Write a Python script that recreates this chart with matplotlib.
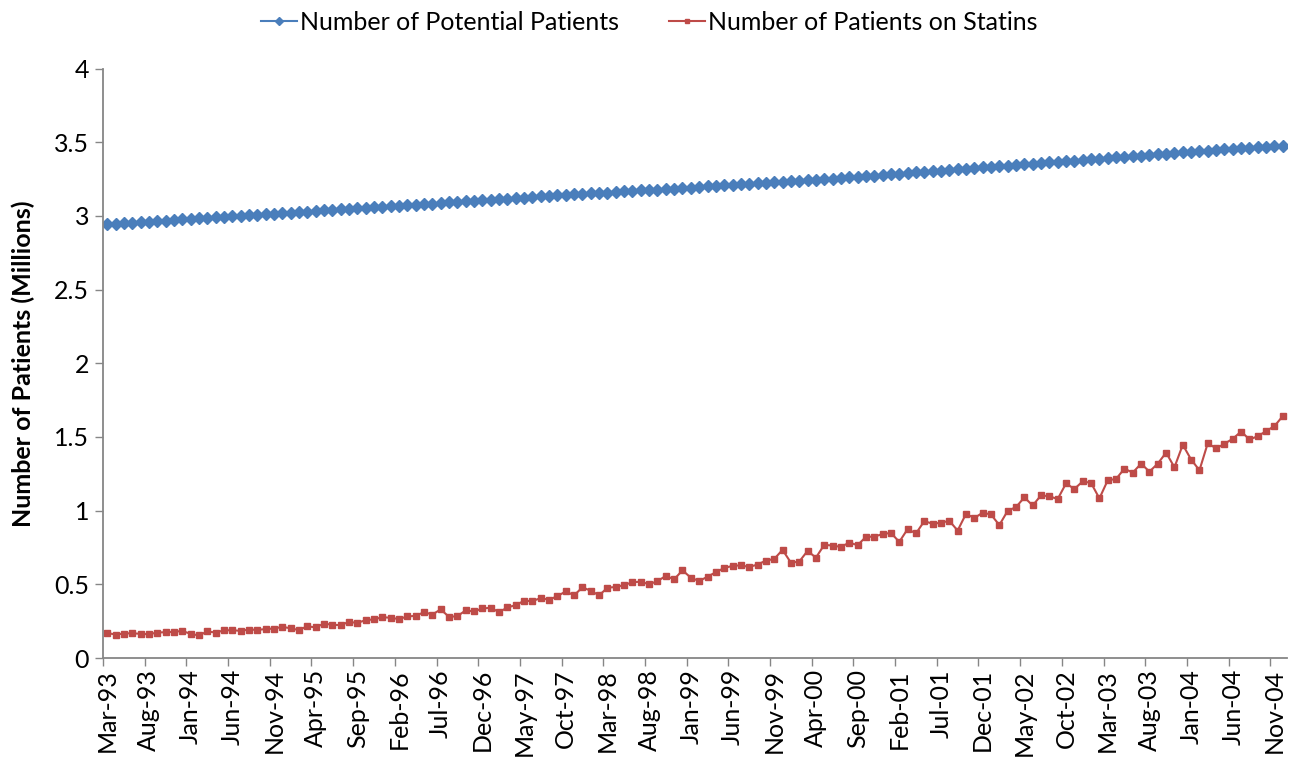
import matplotlib
matplotlib.use("Agg")
import matplotlib.pyplot as plt
import numpy as np

plt.rcParams['font.family'] = ['Lato', 'DejaVu Sans']

# 142 monthly points, Mar-93 .. Dec-04
potential = [
    2.944, 2.948, 2.951, 2.955, 2.958, 2.962, 2.965, 2.969, 2.972, 2.976,
    2.979, 2.983, 2.986, 2.990, 2.993, 2.997, 3.000, 3.004, 3.007, 3.011,
    3.015, 3.018, 3.022, 3.026, 3.029, 3.033, 3.037, 3.040, 3.044, 3.048,
    3.051, 3.055, 3.058, 3.062, 3.066, 3.069, 3.073, 3.077, 3.081, 3.084,
    3.088, 3.092, 3.095, 3.099, 3.103, 3.107, 3.110, 3.114, 3.118, 3.121,
    3.125, 3.129, 3.132, 3.136, 3.139, 3.143, 3.146, 3.149, 3.153, 3.156,
    3.159, 3.163, 3.166, 3.169, 3.173, 3.176, 3.179, 3.183, 3.186, 3.189,
    3.193, 3.196, 3.200, 3.203, 3.207, 3.211, 3.214, 3.218, 3.222, 3.225,
    3.229, 3.233, 3.236, 3.240, 3.243, 3.247, 3.251, 3.254, 3.258, 3.262,
    3.265, 3.269, 3.274, 3.278, 3.282, 3.286, 3.291, 3.295, 3.299, 3.304,
    3.308, 3.312, 3.316, 3.321, 3.325, 3.329, 3.333, 3.338, 3.342, 3.346,
    3.351, 3.355, 3.359, 3.363, 3.368, 3.372, 3.376, 3.381, 3.385, 3.389,
    3.393, 3.398, 3.402, 3.406, 3.410, 3.415, 3.419, 3.423, 3.427, 3.431,
    3.435, 3.439, 3.443, 3.447, 3.451, 3.454, 3.458, 3.462, 3.466, 3.470,
    3.474, 3.478,
]

statins = [
    0.170, 0.159, 0.166, 0.168, 0.164, 0.161, 0.173, 0.175, 0.177, 0.184,
    0.164, 0.153, 0.180, 0.173, 0.187, 0.189, 0.184, 0.193, 0.191, 0.196,
    0.200, 0.211, 0.202, 0.189, 0.216, 0.207, 0.234, 0.225, 0.223, 0.245,
    0.238, 0.257, 0.262, 0.277, 0.273, 0.264, 0.282, 0.286, 0.311, 0.295,
    0.330, 0.279, 0.284, 0.323, 0.316, 0.336, 0.341, 0.311, 0.343, 0.359,
    0.388, 0.386, 0.407, 0.395, 0.420, 0.452, 0.425, 0.480, 0.456, 0.425,
    0.477, 0.482, 0.495, 0.514, 0.518, 0.500, 0.522, 0.557, 0.534, 0.595,
    0.545, 0.522, 0.552, 0.582, 0.611, 0.625, 0.629, 0.618, 0.634, 0.661,
    0.672, 0.734, 0.647, 0.654, 0.727, 0.681, 0.768, 0.763, 0.754, 0.783,
    0.766, 0.822, 0.824, 0.841, 0.849, 0.788, 0.875, 0.845, 0.929, 0.911,
    0.918, 0.931, 0.865, 0.978, 0.950, 0.986, 0.974, 0.902, 0.999, 1.024,
    1.090, 1.035, 1.104, 1.097, 1.079, 1.185, 1.147, 1.199, 1.188, 1.083,
    1.206, 1.215, 1.285, 1.258, 1.319, 1.265, 1.319, 1.394, 1.294, 1.447,
    1.347, 1.274, 1.458, 1.422, 1.454, 1.488, 1.537, 1.483, 1.505, 1.540,
    1.574, 1.642,
]

tick_labels = [
    "Mar-93", "Aug-93", "Jan-94", "Jun-94", "Nov-94", "Apr-95", "Sep-95",
    "Feb-96", "Jul-96", "Dec-96", "May-97", "Oct-97", "Mar-98", "Aug-98",
    "Jan-99", "Jun-99", "Nov-99", "Apr-00", "Sep-00", "Feb-01", "Jul-01",
    "Dec-01", "May-02", "Oct-02", "Mar-03", "Aug-03", "Jan-04", "Jun-04",
    "Nov-04",
]

series_names = ["Number of Potential Patients", "Number of Patients on Statins"]
y_label = "Number of Patients (Millions)"

n = len(potential)
x = np.arange(n)

fig = plt.figure(figsize=(12.98, 7.62), dpi=100)
ax = fig.add_axes([103/1298, 1-658/762, (1287-103)/1298, (658-68.6)/762])

blue = "#4A7EBB"
red = "#BE4B48"
l1, = ax.plot(x, potential, color=blue, lw=1.5, marker="D", ms=6.5,
              mec=blue, mfc=blue, label=series_names[0])
l2, = ax.plot(x, statins, color=red, lw=1.5, marker="s", ms=4.8,
              mec=red, mfc=red, label=series_names[1])

ax.set_xlim(-0.5, n - 0.5)
ax.set_ylim(0, 4)
ax.set_yticks(np.arange(0, 4.01, 0.5))
ax.set_yticklabels(["0", "0.5", "1", "1.5", "2", "2.5", "3", "3.5", "4"])

fs = 18
major = np.arange(0, n, 5)
ax.set_xticks(major)
ax.set_xticklabels(tick_labels[:len(major)], rotation=90)
ax.set_xticks(np.arange(-0.5, n, 5), minor=True)
ax.tick_params(axis="x", which="major", length=0, pad=8, labelsize=fs, colors="black")
ax.tick_params(axis="x", which="minor", length=6, width=1, color="#868686", direction="out")
ax.tick_params(axis="y", which="major", length=6, width=1, color="#868686",
               labelsize=fs, pad=4, direction="out")

for s in ["top", "right"]:
    ax.spines[s].set_visible(False)
for s in ["left", "bottom"]:
    ax.spines[s].set_color("#868686")
    ax.spines[s].set_linewidth(1.3)

ax.set_ylabel(y_label, fontsize=18, fontweight="bold")
ax.yaxis.set_label_coords(-(103-35)/1184, 0.5)

fig.legend(handles=[l1, l2], loc="center", bbox_to_anchor=(0.5, 1 - 22/762),
           ncol=2, frameon=False, fontsize=fs, handlelength=1.45,
           handletextpad=0.1, columnspacing=2.0, markerscale=0.7)

fig.savefig("out.png", dpi=100)
